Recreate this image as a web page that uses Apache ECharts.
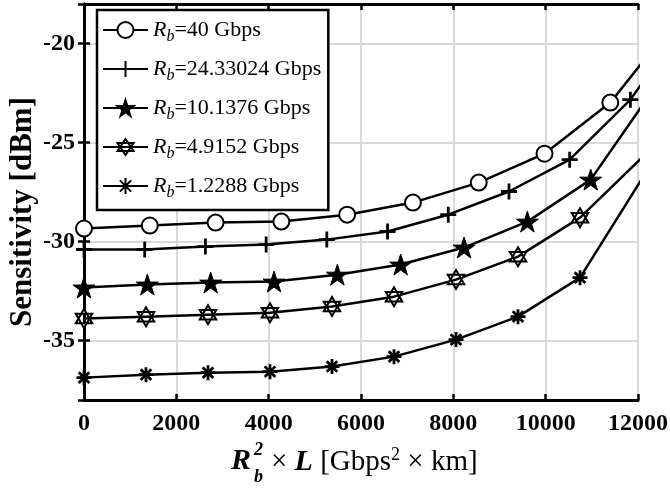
<!DOCTYPE html>
<html>
<head>
<meta charset="utf-8">
<script src="https://cdn.jsdelivr.net/npm/echarts@6/dist/echarts.min.js"></script>
<style>
html, body { margin: 0; padding: 0; background: #fff; }
#main { width: 670px; height: 489px; }
</style>
</head>
<body>
<div id="main"></div>
<script>
// bit rates used in the legend (Gbps)
const rateNames = ['40', '24.33024', '10.1376', '4.9152', '1.2288'];

// x = Rb^2 * L [Gbps^2 km], y = sensitivity [dBm]
const x40 = [0, 1425, 2850, 4275, 5700, 7125, 8550, 9975, 11400, 12825];
const y40 = [-29.34, -29.19, -29.04, -28.99, -28.64, -28.03, -27.02, -25.56, -22.98, -18.8];

const x24 = [0, 1315, 2630, 3945, 5260, 6575, 7890, 9205, 10520, 11835, 13150];
const y24 = [-30.40, -30.40, -30.25, -30.15, -29.90, -29.49, -28.64, -27.47, -25.86, -22.83, -18.5];

const x10 = [0, 1372, 2744, 4116, 5488, 6860, 8232, 9604, 10976, 12348];
const y10 = [-32.32, -32.17, -32.07, -32.02, -31.67, -31.16, -30.30, -28.99, -26.87, -22.27];

const x4 = [0, 1343, 2686, 4029, 5372, 6715, 8058, 9401, 10744, 12087];
const y4 = [-33.89, -33.79, -33.69, -33.59, -33.28, -32.78, -31.92, -30.76, -28.79, -25.76];

const x1 = [0, 1343, 2686, 4029, 5372, 6715, 8058, 9401, 10744, 12087];
const y1 = [-36.87, -36.72, -36.62, -36.57, -36.31, -35.81, -34.95, -33.79, -31.82, -26.82];

const xTicks = { min: 0, max: 12000, interval: 2000 };
const yRange = { min: -38, max: -18 };

// marker shapes (matlab style)
const plusPath = 'path://M0,-10L0,10M-10,0L10,0';
const starPath = 'path://M0,-10L2.245,-3.09L9.511,-3.09L3.633,1.18L5.878,8.09L0,3.82L-5.878,8.09L-3.633,1.18L-9.511,-3.09L-2.245,-3.09Z';
const hexPath = 'path://M0,-10L8.66,5L-8.66,5ZM0,10L8.66,-5L-8.66,-5Z';
const asterPath = 'path://M0,-10L0,10M-10,0L10,0M-7.07,-7.07L7.07,7.07M-7.07,7.07L7.07,-7.07';

const serif = 'Liberation Serif';

function pairs(xs, ys) {
    return xs.map((x, i) => [x, ys[i]]);
}

function makeSeries(name, xs, ys, symbol, size, fill, bw) {
    return {
        name: name,
        type: 'line',
        data: pairs(xs, ys),
        symbol: symbol,
        symbolSize: size,
        symbolKeepAspect: true,
        showAllSymbol: true,
        clip: true,
        lineStyle: { color: '#000', width: 2.5 },
        itemStyle: { color: fill, borderColor: '#000', borderWidth: bw },
        emphasis: { disabled: true }
    };
}

const axisLine = { lineStyle: { color: '#000', width: 3 } };
const axisTick = { inside: true, length: 6, lineStyle: { color: '#000', width: 2.5 } };
const grayLine = { show: true, lineStyle: { color: '#d9d9d9', width: 2 } };
const tickFont = { color: '#000', fontFamily: serif, fontWeight: 'bold', fontSize: 24 };

const myEcharts = echarts.init(document.getElementById('main'));

const option = {
    animation: false,
    grid: { left: 84, right: 32, top: 4, bottom: 89, outerBoundsMode: 'none' },
    legend: {
        orient: 'vertical',
        left: 97,
        top: 10,
        padding: [9, 7, 9, 5],
        itemGap: 13,
        itemWidth: 45,
        itemHeight: 20,
        borderColor: '#000',
        borderWidth: 2.5,
        backgroundColor: '#fff',
        formatter: name => '{r|R}{s|b}{t|=' + name + ' Gbps}',
        textStyle: {
            color: '#000',
            rich: {
                r: { fontFamily: serif, fontStyle: 'italic', fontSize: 22, lineHeight: 30, color: '#000' },
                s: { fontFamily: serif, fontStyle: 'italic', fontSize: 16, lineHeight: 12, verticalAlign: 'bottom', color: '#000' },
                t: { fontFamily: serif, fontSize: 22, lineHeight: 30, color: '#000' }
            }
        }
    },
    xAxis: [
        {
            type: 'value',
            min: xTicks.min, max: xTicks.max, interval: xTicks.interval,
            position: 'bottom',
            axisLine: axisLine,
            axisTick: axisTick,
            axisLabel: Object.assign({ margin: 12, formatter: v => String(v) }, tickFont),
            splitLine: grayLine
        },
        {
            type: 'value',
            min: xTicks.min, max: xTicks.max, interval: xTicks.interval,
            position: 'top',
            axisLine: axisLine,
            axisTick: axisTick,
            axisLabel: { show: false },
            splitLine: { show: false }
        }
    ],
    yAxis: [
        {
            type: 'value',
            min: yRange.min, max: yRange.max,
            position: 'left',
            axisLine: axisLine,
            axisTick: axisTick,
            axisLabel: Object.assign({ margin: 9, showMinLabel: false, showMaxLabel: false }, tickFont),
            splitLine: grayLine
        },
        {
            type: 'value',
            min: yRange.min, max: yRange.max,
            position: 'right',
            axisLine: axisLine,
            axisTick: axisTick,
            axisLabel: { show: false },
            splitLine: { show: false }
        }
    ],
    graphic: [
        // y axis title
        {
            type: 'text', x: 23, y: 212, rotation: Math.PI / 2,
            style: { text: 'Sensitivity [dBm]', font: 'bold 31px "Liberation Serif"', fill: '#000', textAlign: 'center', textVerticalAlign: 'middle' }
        },
        // x axis title
        { type: 'text', left: 231, top: 446, style: { text: 'R', font: 'italic bold 30px "Liberation Serif"', fill: '#000' } },
        { type: 'text', left: 254, top: 441, style: { text: '2', font: 'italic bold 18px "Liberation Serif"', fill: '#000' } },
        { type: 'text', left: 254, top: 468, style: { text: 'b', font: 'italic bold 18px "Liberation Serif"', fill: '#000' } },
        {
            type: 'text', left: 271, top: 446,
            style: {
                text: '{n|× }{bi|L}{n| [Gbps}{sup|2}{n| × km]}',
                rich: {
                    n: { font: '29px "Liberation Serif"', fill: '#000', lineHeight: 32 },
                    bi: { font: 'italic bold 30px "Liberation Serif"', fill: '#000', lineHeight: 32 },
                    sup: { font: '18px "Liberation Serif"', fill: '#000', lineHeight: 16, verticalAlign: 'top' }
                }
            }
        }
    ],
    series: [
        makeSeries(rateNames[0], x40, y40, 'emptyCircle', 16, '#000', 2.2),
        makeSeries(rateNames[1], x24, y24, plusPath, 16, '#000', 2.8),
        makeSeries(rateNames[2], x10, y10, starPath, 22, '#000', 1),
        makeSeries(rateNames[3], x4, y4, hexPath, 19, '#fff', 2),
        makeSeries(rateNames[4], x1, y1, asterPath, 15, '#000', 2.8)
    ]
};

myEcharts.setOption(option);
window.addEventListener('resize', () => {
    myEcharts.resize();
});
</script>
</body>
</html>
